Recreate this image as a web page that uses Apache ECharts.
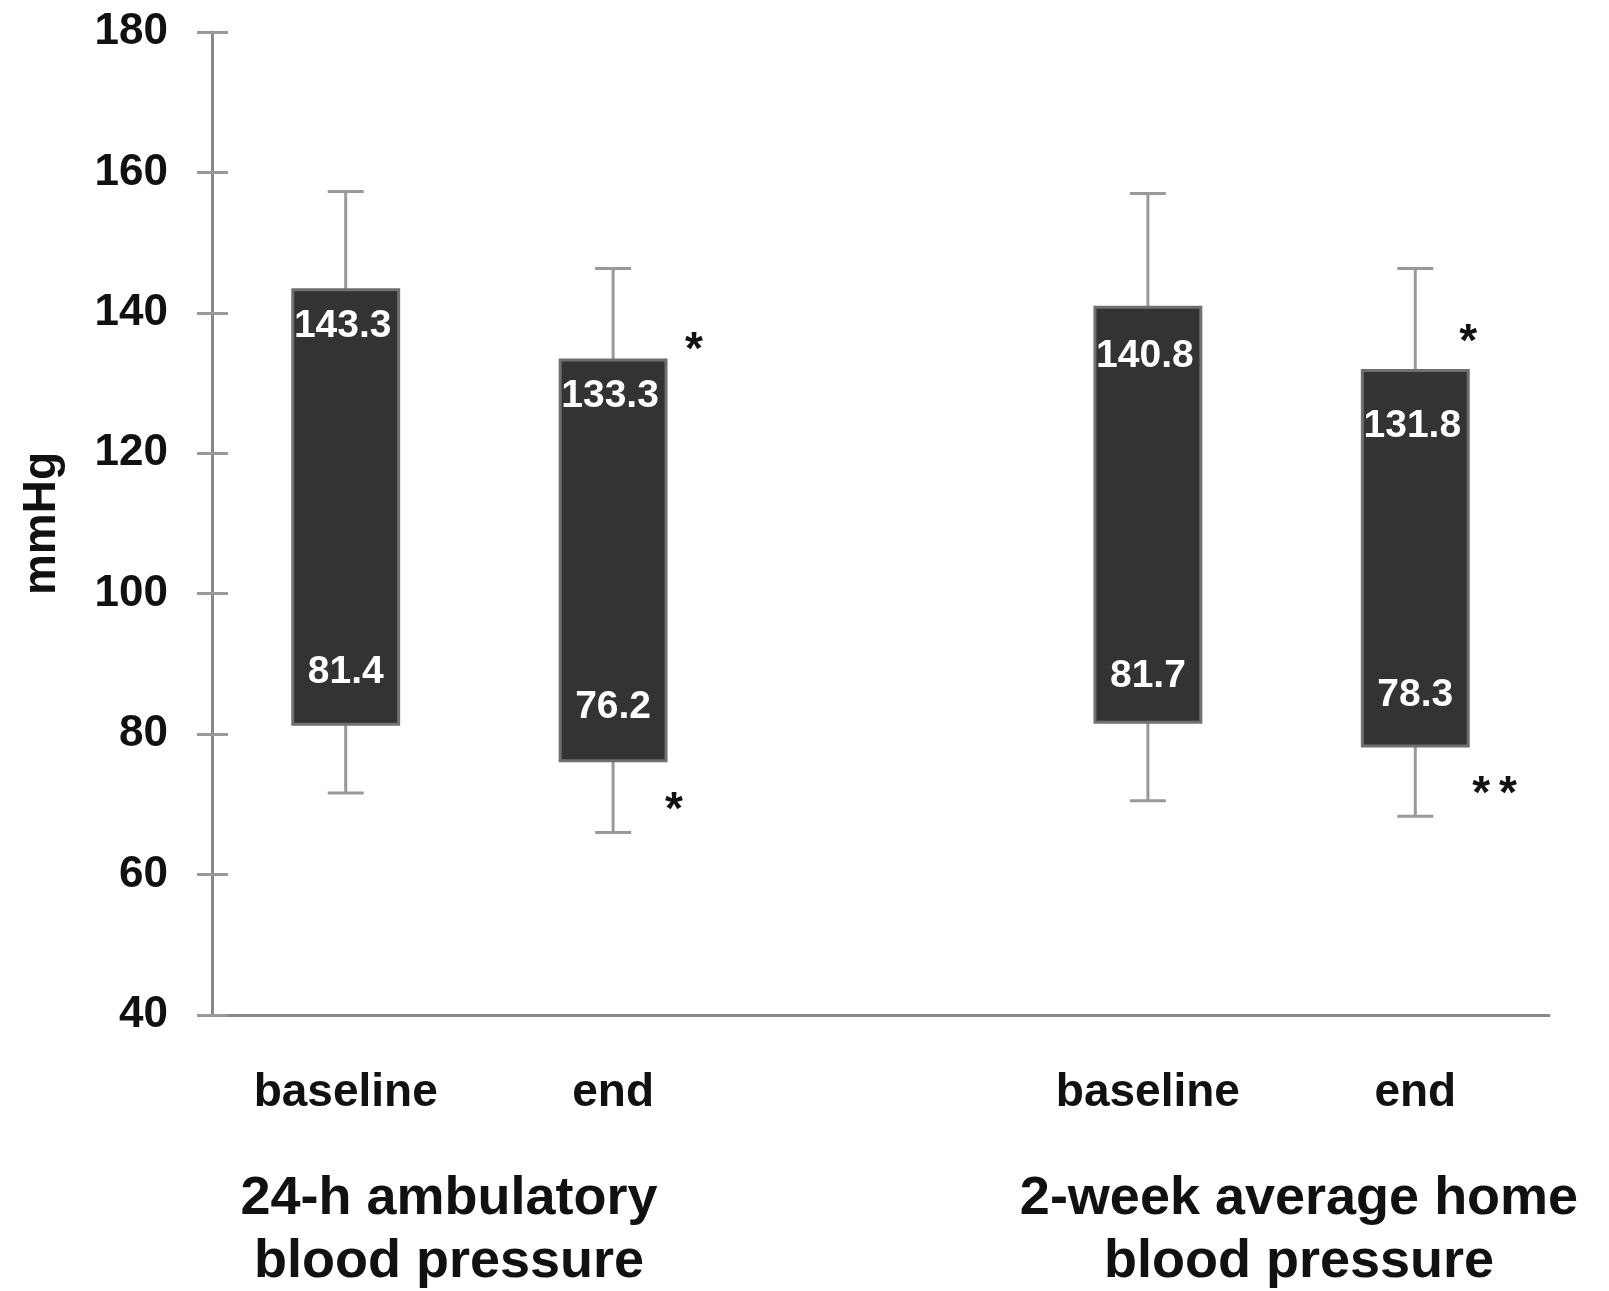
<!DOCTYPE html>
<html>
<head>
<meta charset="utf-8">
<style>
  html, body { margin: 0; padding: 0; background: #ffffff; }
  #chart { width: 1609px; height: 1291px; }
</style>
<script src="https://cdn.jsdelivr.net/npm/echarts@6/dist/echarts.min.js"></script>
</head>
<body>
<div id="chart"></div>
<script>
// ---- data ----
const categories = ['baseline', 'end', '', 'baseline', 'end'];
const systolic = [143.3, 133.3, null, 140.8, 131.8];
const diastolic = [81.4, 76.2, null, 81.7, 78.3];
const whiskerTop = [157.3, 146.3, null, 157.0, 146.3];
const whiskerBottom = [71.6, 66.0, null, 70.5, 68.3];
const sigUpper = ['', '*', '', '', '*'];
const sigUpperAt = [null, 136.2, null, null, 137.4];
const sigLower = ['', '*', '', '', '**'];
const sigLowerAt = [null, 70.7, null, null, 73.0];
const yTicks = [40, 60, 80, 100, 120, 140, 160, 180];
const groupLabels = ['24-h ambulatory\nblood pressure', '2-week average home\nblood pressure'];

// ---- styling helpers (pixel offsets, not data) ----
const topLabelDy = [37, 36, 0, 49, 56];
const botLabelDy = [52, 54, 0, 46, 51];
const sigUpperDx = [0, 28, 0, 0, 0];
const sigLowerDx = [0, 8, 0, 0, 13];
const FONT = "'Liberation Sans', Arial, sans-serif";

const seriesData = [];
for (let i = 0; i < categories.length; i++) {
  if (systolic[i] == null) continue;
  seriesData.push([i, systolic[i], diastolic[i], whiskerTop[i], whiskerBottom[i]]);
}

const chart = echarts.init(document.getElementById('chart'));

function renderItem(params, api) {
  const i = api.value(0);
  const hi = api.value(1), lo = api.value(2), wt = api.value(3), wb = api.value(4);
  const pHi = api.coord([i, hi]);
  const pLo = api.coord([i, lo]);
  const pWT = api.coord([i, wt]);
  const pWB = api.coord([i, wb]);
  const band = api.size([1, 0])[0];
  const bw = band * 0.396;
  const cx = pHi[0];
  const capW = 36;
  const whiskerStyle = { stroke: '#999999', lineWidth: 3 };
  const children = [
    { type: 'line', shape: { x1: cx, y1: pWT[1], x2: cx, y2: pHi[1] }, style: whiskerStyle },
    { type: 'line', shape: { x1: cx - capW / 2, y1: pWT[1], x2: cx + capW / 2, y2: pWT[1] }, style: whiskerStyle },
    { type: 'line', shape: { x1: cx, y1: pLo[1], x2: cx, y2: pWB[1] }, style: whiskerStyle },
    { type: 'line', shape: { x1: cx - capW / 2, y1: pWB[1], x2: cx + capW / 2, y2: pWB[1] }, style: whiskerStyle },
    { type: 'rect', shape: { x: cx - bw / 2, y: pHi[1], width: bw, height: pLo[1] - pHi[1] },
      style: { fill: '#333333', stroke: '#707070', lineWidth: 3 } },
    { type: 'text', style: { text: hi.toFixed(1), x: cx - 3, y: pHi[1] + topLabelDy[i],
      align: 'center', verticalAlign: 'middle', fill: '#ffffff', font: 'bold 39px ' + FONT } },
    { type: 'text', style: { text: lo.toFixed(1), x: cx, y: pLo[1] - botLabelDy[i],
      align: 'center', verticalAlign: 'middle', fill: '#ffffff', font: 'bold 39px ' + FONT } }
  ];
  const addStars = (str, val, dx) => {
    if (!str || val == null) return;
    const p = api.coord([i, val]);
    for (let k = 0; k < str.length; k++) {
      children.push({ type: 'text', style: { text: '*', x: cx + bw / 2 + dx + k * 26.6, y: p[1] + 12,
        align: 'center', verticalAlign: 'middle', fill: '#111111', font: 'bold 46px ' + FONT } });
    }
  };
  addStars(sigUpper[i], sigUpperAt[i], sigUpperDx[i]);
  addStars(sigLower[i], sigLowerAt[i], sigLowerDx[i]);
  return { type: 'group', children: children };
}

const yCommon = { type: 'value', min: yTicks[0], max: yTicks[yTicks.length - 1], interval: 20, splitLine: { show: false } };

chart.setOption({
  animation: false,
  backgroundColor: '#ffffff',
  grid: { left: 212, right: 60, top: 32, bottom: 276 },
  xAxis: {
    type: 'category',
    data: categories,
    boundaryGap: true,
    axisTick: { show: false },
    axisLine: { lineStyle: { color: '#888888', width: 3 } },
    axisLabel: { margin: 55, color: '#111111', fontSize: 46, fontWeight: 'bold', fontFamily: FONT }
  },
  yAxis: [
    Object.assign({}, yCommon, {
      name: 'mmHg',
      nameLocation: 'middle',
      nameGap: 147,
      nameTextStyle: { color: '#111111', fontSize: 46, fontWeight: 'bold', fontFamily: FONT },
      axisLine: { show: true, lineStyle: { color: '#888888', width: 3 } },
      axisTick: { show: true, length: 15, lineStyle: { color: '#999999', width: 3 } },
      axisLabel: { margin: 44, color: '#111111', fontSize: 44, fontWeight: 'bold', fontFamily: FONT }
    }),
    Object.assign({}, yCommon, {
      position: 'left',
      axisLine: { show: false },
      axisTick: { show: true, inside: true, length: 16, lineStyle: { color: '#999999', width: 3 } },
      axisLabel: { show: false }
    })
  ],
  series: [{
    type: 'custom',
    renderItem: renderItem,
    data: seriesData,
    encode: { x: 0, y: [1, 2, 3, 4] },
    clip: false
  }],
  graphic: [
    { type: 'text', x: 449, y: 1168, style: { text: groupLabels[0], align: 'center', verticalAlign: 'top',
      fill: '#111111', font: 'bold 54px ' + FONT, lineHeight: 63 } },
    { type: 'text', x: 1299, y: 1168, style: { text: groupLabels[1], align: 'center', verticalAlign: 'top',
      fill: '#111111', font: 'bold 54px ' + FONT, lineHeight: 63 } }
  ]
});
</script>
</body>
</html>
